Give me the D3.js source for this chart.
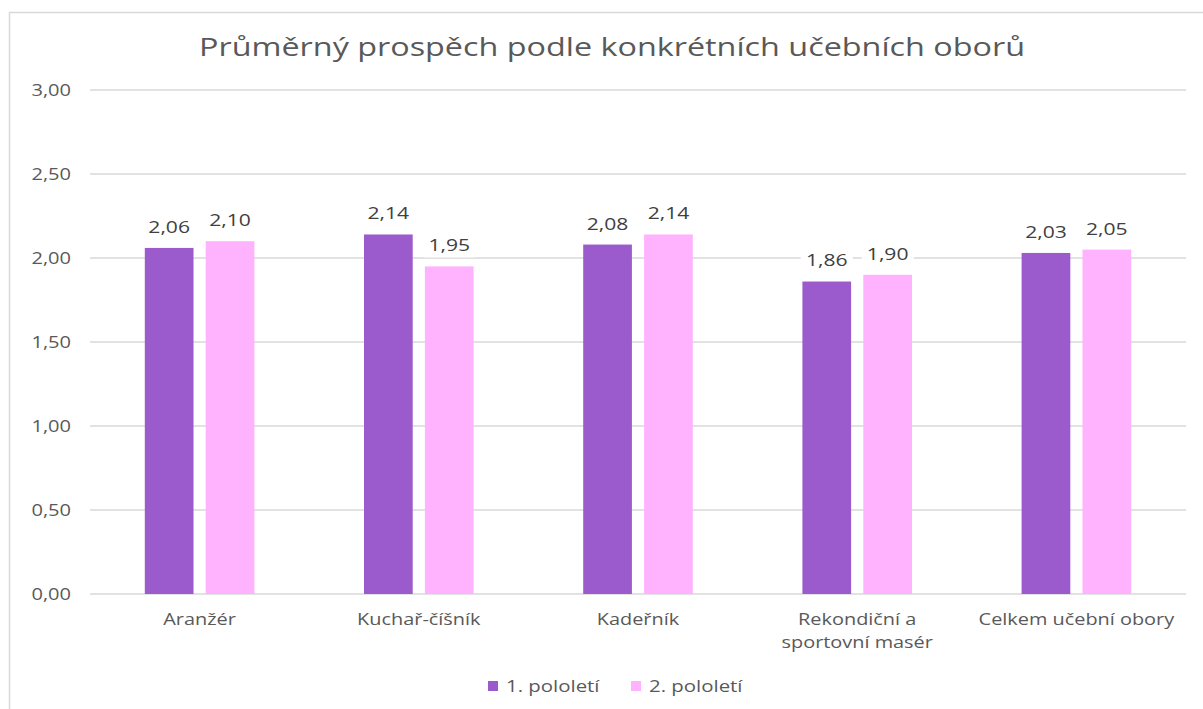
<!DOCTYPE html>
<html>
<head>
<meta charset="utf-8">
<script src="https://cdn.jsdelivr.net/npm/d3@7"></script>
<style>
  body { margin: 0; background: #fff; }
  text { font-family: "Open Sans", "DejaVu Sans", sans-serif; }
</style>
</head>
<body>
<div id="chartContainer"></div>
<script>
const categories = ["Aranžér", "Kuchař-číšník", "Kadeřník", "Rekondiční a\nsportovní masér", "Celkem učební obory"];
const seriesNames = ["1. pololetí", "2. pololetí"];
const firstHalf = [2.06, 2.14, 2.08, 1.86, 2.03];
const secondHalf = [2.10, 1.95, 2.14, 1.90, 2.05];
const yTicks = [0, 0.5, 1, 1.5, 2, 2.5, 3];

const colors = ["#9c5bcd", "#ffb3ff"];
const fmt = v => d3.format(".2f")(v).replace(".", ",");

const data = categories.map((c, i) => ({ cat: c, values: [firstHalf[i], secondHalf[i]] }));

const W = 1203, H = 709;
const margin = { top: 90, right: 17, bottom: 115, left: 90 };
const width = W - margin.left - margin.right;
const height = H - margin.top - margin.bottom;

// the original text is a bit wider than Open Sans, stretch it horizontally
function stretch(sel, k) {
  sel.each(function() {
    const len = this.getComputedTextLength();
    d3.select(this)
      .attr("textLength", len * k)
      .attr("lengthAdjust", "spacingAndGlyphs");
  });
}

const svg = d3.select("#chartContainer").append("svg")
  .attr("width", W)
  .attr("height", H);

// chart border (only top/left are visible in the frame)
svg.append("rect")
  .attr("x", 9.5).attr("y", 12.5)
  .attr("width", 1250).attr("height", 800)
  .attr("fill", "none")
  .attr("stroke", "#d9d9d9")
  .attr("stroke-width", 1.5);

// title
svg.append("text")
  .attr("x", 612)
  .attr("y", 56)
  .attr("text-anchor", "middle")
  .style("font-size", "25px")
  .style("fill", "#595959")
  .attr("textLength", 826)
  .attr("lengthAdjust", "spacingAndGlyphs")
  .text("Průměrný prospěch podle konkrétních učebních oborů");

const g = svg.append("g")
  .attr("transform", `translate(${margin.left}, ${margin.top})`);

const x0 = d3.scaleBand()
  .domain(categories)
  .range([0, width])
  .paddingInner(0.5)
  .paddingOuter(0.25);

const x1 = d3.scaleBand()
  .domain([0, 1])
  .range([0, x0.bandwidth()])
  .paddingInner(0.2);

const y = d3.scaleLinear()
  .domain([0, 3])
  .range([height, 0]);

// gridlines
g.selectAll(".grid")
  .data(yTicks)
  .enter().append("line")
  .attr("x1", 0).attr("x2", width)
  .attr("y1", d => y(d)).attr("y2", d => y(d))
  .attr("stroke", "#d9d9d9")
  .attr("stroke-width", 1.5);

// y tick labels
g.selectAll(".ytick")
  .data(yTicks)
  .enter().append("text")
  .attr("x", -19)
  .attr("y", d => y(d))
  .attr("dy", "0.35em")
  .attr("text-anchor", "end")
  .style("font-size", "17px")
  .style("fill", "#595959")
  .text(fmt)
  .call(stretch, 1.18);

// bars
const groups = g.selectAll(".group")
  .data(data)
  .enter().append("g")
  .attr("transform", d => `translate(${x0(d.cat)}, 0)`);

groups.selectAll("rect")
  .data(d => d.values.map((v, i) => ({ v, i })))
  .enter().append("rect")
  .attr("x", d => x1(d.i))
  .attr("width", x1.bandwidth())
  .attr("y", d => y(d.v))
  .attr("height", d => height - y(d.v))
  .style("fill", d => colors[d.i]);

// data labels with white background
const labels = groups.selectAll(".lbl")
  .data(d => d.values.map((v, i) => ({ v, i })))
  .enter().append("g")
  .attr("transform", d => `translate(${x1(d.i) + x1.bandwidth() / 2}, ${y(d.v) - 21})`);

labels.append("rect")
  .attr("x", -26).attr("y", -12)
  .attr("width", 52).attr("height", 24)
  .style("fill", "#fff");

labels.append("text")
  .attr("text-anchor", "middle")
  .attr("dy", "0.35em")
  .style("font-size", "17px")
  .style("fill", "#404040")
  .text(d => fmt(d.v))
  .call(stretch, 1.24);

// category labels
const catText = g.selectAll(".cat")
  .data(categories)
  .enter().append("text")
  .attr("x", d => x0(d) + x0.bandwidth() / 2)
  .attr("y", height + 31)
  .attr("text-anchor", "middle")
  .style("font-size", "17px")
  .style("fill", "#595959");

catText.selectAll("tspan")
  .data(d => d.split("\n"))
  .enter().append("tspan")
  .attr("x", function() { return d3.select(this.parentNode).attr("x"); })
  .attr("dy", (d, i) => i === 0 ? 0 : 23)
  .text(d => d)
  .call(stretch, 1.17);

// legend
const legend = svg.append("g")
  .attr("transform", "translate(488, 686)");

const legItems = legend.selectAll(".leg")
  .data(seriesNames)
  .enter().append("g")
  .attr("transform", (d, i) => `translate(${i * 143}, 0)`);

legItems.append("rect")
  .attr("x", 0).attr("y", -5)
  .attr("width", 10).attr("height", 10)
  .style("fill", (d, i) => colors[i]);

legItems.append("text")
  .attr("x", 18)
  .attr("dy", "0.35em")
  .style("font-size", "17px")
  .style("fill", "#595959")
  .text(d => d)
  .call(stretch, 1.2);
</script>
</body>
</html>
